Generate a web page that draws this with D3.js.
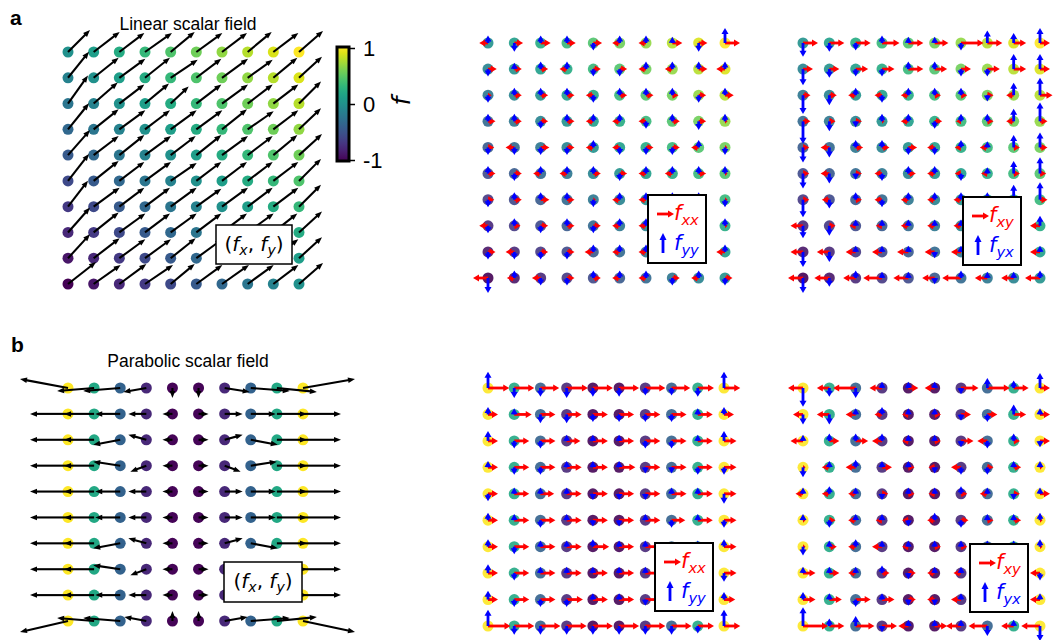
<!DOCTYPE html>
<html>
<head>
<meta charset="utf-8">
<script src="https://cdn.jsdelivr.net/npm/d3@7"></script>
<style>
  body { margin: 0; background: #fff; }
  text { font-family: "Liberation Sans", Arial, sans-serif; }
  .math { font-family: "DejaVu Sans", sans-serif; }
</style>
</head>
<body>
<svg id="fig" width="1055" height="640"></svg>
<script>
// ---- data (rows listed top to bottom, columns left to right) ----
const cbarTicks = [-1, 0, 1];

// linear scalar field value at each grid node
const linF = [
  [0, .11, .22, .33, .44, .56, .67, .78, .89, 1],
  [-.11, 0, .11, .22, .33, .44, .56, .67, .78, .89],
  [-.22, -.11, 0, .11, .22, .33, .44, .56, .67, .78],
  [-.33, -.22, -.11, 0, .11, .22, .33, .44, .56, .67],
  [-.44, -.33, -.22, -.11, 0, .11, .22, .33, .44, .56],
  [-.56, -.44, -.33, -.22, -.11, 0, .11, .22, .33, .44],
  [-.67, -.56, -.44, -.33, -.22, -.11, 0, .11, .22, .33],
  [-.78, -.67, -.56, -.44, -.33, -.22, -.11, 0, .11, .22],
  [-.89, -.78, -.67, -.56, -.44, -.33, -.22, -.11, 0, .11],
  [-1, -.89, -.78, -.67, -.56, -.44, -.33, -.22, -.11, 0]
];
// gradient of linear field (fx, fy)
const linFx = [
  [22, 26, 25, 27, 24, 26, 25, 24, 25, 24],
  [21, 25, 26, 25, 27, 25, 26, 25, 24, 23],
  [20, 24, 25, 24, 18, 25, 26, 25, 25, 22],
  [21, 25, 26, 25, 26, 26, 25, 26, 25, 22],
  [22, 25, 25, 26, 25, 25, 26, 25, 24, 23],
  [21, 25, 25, 26, 26, 25, 25, 25, 25, 22],
  [20, 26, 25, 25, 26, 25, 26, 25, 25, 22],
  [22, 25, 26, 25, 26, 25, 25, 26, 24, 23],
  [22, 26, 26, 26, 25, 26, 25, 26, 25, 23],
  [28, 27, 27, 28, 24, 26, 27, 26, 25, 24]
];
const linFy = [
  [22, 20, 19, 19, 20, 19, 19, 20, 19, 21],
  [26, 20, 19, 20, 18, 19, 19, 18, 20, 21],
  [28, 21, 19, 20, 17, 19, 19, 19, 19, 22],
  [26, 20, 19, 19, 19, 19, 20, 18, 19, 21],
  [25, 19, 20, 19, 19, 20, 19, 19, 20, 21],
  [27, 20, 19, 19, 18, 19, 19, 19, 19, 22],
  [26, 19, 19, 19, 19, 18, 19, 19, 19, 22],
  [25, 20, 19, 19, 19, 19, 19, 19, 19, 21],
  [24, 20, 19, 19, 20, 19, 19, 19, 19, 21],
  [22, 19, 20, 19, 20, 19, 19, 19, 19, 21]
];
// second derivatives of linear field
const linFxx = [
  [-7, 7, 8, 7, 7, -6, -6, 8, 7, 12],
  [7, 6, 6, -6, 6, 6, -6, -6, 7, -7],
  [3, 6, 6, 6, -6, 6, 6, 5, 6, 7],
  [6, 6, 6, 6, -6, -6, -6, 6, 6, 2],
  [5, -7, 7, 6, -6, -6, 6, 6, -6, 2],
  [6, 6, -6, -6, 6, 6, -6, -6, 6, 2],
  [5, 6, 7, 6, 2, -6, -6, 5, 6, 2],
  [-7, 5, 6, 6, 6, -6, -6, 6, -5, 2],
  [6, -7, 6, 6, -7, -6, -6, 6, 5, -7],
  [-12, -6, -7, 6, 6, -6, -6, 6, -6, 6]
];
const linFyy = [
  [6, -7, 6, 6, -6, 6, 6, 5, -7, 12],
  [-6, 5, 6, 6, -6, -6, 6, 6, 6, 6],
  [-6, 6, 6, 6, -6, 6, 6, 6, -6, 6],
  [6, 6, -6, 6, 6, 6, -6, 6, -7, 6],
  [-6, -6, -6, -6, 6, -6, -6, -6, 6, -6],
  [6, -6, 6, 6, 6, -6, 6, 6, 6, 6],
  [-6, 6, 6, 6, -6, 6, 6, 6, 6, -6],
  [-6, 6, -6, 6, -6, 6, 6, 6, 6, 6],
  [-6, -6, -6, -6, 6, 6, 6, 6, 6, 6],
  [-12, 6, -6, -6, 6, 6, 6, -6, 6, -6]
];
const linFxy = [
  [12, 12, 12, 14, 12, 11, 18, 12, 10, 8],
  [8, 8, 10, 10, 12, 10, 8, 10, 10, 8],
  [6, 6, -6, -6, -6, 5, 5, 5, -6, 10],
  [6, 5, 5, 2, -6, 6, -4, 5, -6, 6],
  [5, -7, 6, 6, 7, -6, -5, -6, 5, 6],
  [5, -7, 5, -6, 6, -6, -5, -5, 5, 5],
  [5, -6, 5, -6, -6, -6, -6, -5, 5, 6],
  [-10, 5, -5, -5, -6, -6, -6, -6, -6, -8],
  [-10, -10, -8, -8, -9, -8, -8, -8, -8, -8],
  [-12, -12, -10, -15, -12, -10, -15, -10, -10, -12]
];
const linFyx = [
  [-11, -7, -6, 6, 5, 5, -6, 10, 8, 12],
  [-13, -7, -6, -6, 6, 6, -6, -6, 12, 12],
  [-15, -8, 6, -6, 6, 6, 6, -5, 10, 14],
  [-18, -8, -5, 6, 6, -6, 6, 6, 10, 15],
  [-12, -8, 6, 6, -6, -6, 6, 5, 10, 12],
  [-12, -8, -5, -6, 6, 6, -6, 5, 10, 13],
  [-14, -7, 6, -6, 6, 6, 6, 6, 12, 14],
  [-10, -8, 5, 5, 5, 5, 5, 5, 8, 8],
  [-12, -8, 5, 5, 5, -5, 5, 5, 5, 5],
  [-12, -7, 6, 5, 5, -5, 6, 5, 5, 6]
];

// parabolic scalar field value per column (same on every row)
const parF = [1, .6, .31, .11, .01, .01, .11, .31, .6, 1];
const parFx = [
  [-48, -37, -37, -23, 0, 0, 25, 39, 40, 52],
  [-38, -30, -25, -18, -10, 10, 18, 25, 30, 38],
  [-38, -30, -27, -18, -10, 10, 18, 27, 30, 38],
  [-38, -30, -27, -16, -10, 10, 16, 26, 30, 38],
  [-38, -30, -25, -18, -10, 10, 18, 25, 30, 38],
  [-38, -30, -25, -18, -10, 10, 18, 25, 30, 38],
  [-38, -30, -27, -18, -10, 10, 18, 27, 30, 38],
  [-38, -30, -27, -16, -10, 10, 16, 26, 30, 38],
  [-38, -30, -25, -18, -10, 10, 18, 25, 30, 38],
  [-48, -37, -37, -22, 0, 0, 23, 39, 40, 52]
];
const parFy = [
  [9, -3, -3, -4, -10, -10, -4, -3, -4, 9],
  [0, 0, 0, 0, 0, 0, 0, 0, 0, 0],
  [0, 0, -5, 5, 0, 0, 5, -5, 0, 0],
  [0, 0, 4, -6, 0, 0, -6, 4, 0, 0],
  [0, 0, 0, 0, 0, 0, 0, 0, 0, 0],
  [0, 0, 0, 0, 0, 0, 0, 0, 0, 0],
  [0, 0, -5, 5, 0, 0, 5, -5, 0, 0],
  [0, 0, 4, -6, 0, 0, -6, 4, 0, 0],
  [0, 0, 0, 0, 0, 0, 0, 0, 0, 0],
  [-11, 3, 3, 4, 10, 10, 4, 3, 4, -11]
];
const parFxx = [
  [17, 16, 15, 17, 16, 16, 16, 15, 13, 13],
  [8, 14, 12, 12, 12, 12, 12, 12, 12, 8],
  [8, 12, 12, 11, 12, 12, 12, 12, 12, 10],
  [8, 12, 12, 12, 12, 13, 12, 12, 12, 10],
  [8, 12, 11, 12, 12, 12, 12, 12, 12, 10],
  [8, 12, 12, 12, 12, 12, 12, 11, 12, 10],
  [8, 12, 12, 12, 13, 12, 12, 12, 12, 10],
  [8, 12, 12, 12, 12, 12, 12, 12, 12, 10],
  [8, 12, 12, 13, 12, 12, 12, 12, 12, 9],
  [18, 16, 16, 16, 16, 16, 16, 16, 13, 13]
];
const parFyy = [
  [13, -8, -7, -8, -7, -7, -6, -6, -7, 13],
  [6, 5, -7, -7, -6, -6, -6, -6, 5, 6],
  [8, -6, -6, 5, 5, 5, -6, -6, 5, 8],
  [5, -6, -6, 5, 5, 5, -5, -5, -6, -6],
  [-6, 5, 5, 5, -5, -5, -5, 5, 5, -8],
  [6, 5, -6, 5, -5, -5, 5, -6, 5, -6],
  [6, -6, 5, 5, 6, 5, 5, -5, 5, 6],
  [7, -6, 5, 5, 5, 5, 5, -5, 5, -7],
  [7, -6, -6, -6, 5, 5, -5, 5, 5, 6],
  [13, -7, -7, -7, -7, -7, -7, -7, -6, 13]
];
const parFxy = [
  [-12, -10, -18, -10, 8, -8, 14, 18, 12, 8],
  [-8, -10, -8, -6, -5, 5, 8, 8, 10, 8],
  [-10, 8, 10, -8, -5, 5, 10, -8, 5, 8],
  [2, -6, -8, 8, 5, -5, -8, 5, 6, 2],
  [-6, -6, -6, 5, 5, -5, 5, -6, 5, 8],
  [2, 5, -6, -5, -5, -6, 6, 5, 6, 2],
  [2, 6, -6, -8, -5, 5, 5, -5, 5, 2],
  [10, 8, -6, 6, 6, -6, -6, 6, 5, -8],
  [10, 10, 12, 10, 6, -6, -8, -6, 5, -8],
  [20, 12, 15, 12, -8, 10, -12, -15, -10, -15]
];
const parFyx = [
  [-15, -7, -8, 5, 5, 5, -5, 8, 6, 12],
  [-8, -8, 5, 6, 5, 5, -5, -6, 8, 5],
  [5, 6, 6, 6, 5, 5, -5, -6, 6, -5],
  [-8, 5, 6, 5, 5, -5, -6, -6, 5, 5],
  [5, 6, 5, -5, 5, 5, 6, 5, -5, 5],
  [5, -6, 5, 5, -5, 6, -6, 5, 5, 6],
  [-7, 5, 6, 5, 5, 5, 5, 5, 5, 6],
  [5, 5, 5, 6, -5, 5, 5, 5, 5, -6],
  [6, 5, -6, 5, -5, -5, 5, 5, 5, 5],
  [15, 6, 8, -5, 5, 5, 5, -8, 5, -12]
];

// ---- drawing ----
const svg = d3.select("#fig");
const linColor = d3.scaleSequential(d3.interpolateViridis).domain([-1, 1]);
const parColor = d3.scaleSequential(d3.interpolateViridis).domain([0, 1]);
// vector units -> px
const gradScale = d3.scaleLinear().domain([-10, 10]).range([-10, 10]);
const hessScale = d3.scaleLinear().domain([-10, 10]).range([-12.5, 12.5]);

function arrow(g, x, y, vx, vy, o) {
  const L = Math.hypot(vx, vy);
  if (L < 0.3) return;
  const ux = vx / L, uy = vy / L, nx = -uy, ny = ux;
  const hl = Math.min(o.hl, L), hw = o.hw * Math.max(0.7, hl / o.hl);
  const tx = x + vx, ty = y + vy;
  const bx = tx - ux * hl, by = ty - uy * hl;
  if (L > hl) {
    g.append("line")
      .attr("x1", x).attr("y1", y)
      .attr("x2", bx + ux).attr("y2", by + uy)
      .attr("stroke", o.color).attr("stroke-width", o.w);
  }
  g.append("path")
    .attr("d", `M${tx},${ty}L${bx + nx * hw / 2},${by + ny * hw / 2}L${bx - nx * hw / 2},${by - ny * hw / 2}Z`)
    .attr("fill", o.color);
}

function panel(p) {
  const g = svg.append("g");
  const xs = d3.scaleLinear().domain([0, 9]).range([p.x0, p.x1]);
  const ys = d3.scaleLinear().domain([0, 9]).range([p.y0, p.y1]);
  const cells = [];
  d3.range(10).forEach(j => d3.range(10).forEach(i => cells.push({ i, j })));
  g.selectAll("circle").data(cells).join("circle")
    .attr("cx", d => xs(d.i)).attr("cy", d => ys(d.j)).attr("r", 5.5)
    .attr("fill", d => p.color(d.i, d.j))
    .attr("opacity", p.dotOpacity);
  p.vectors.forEach(v => {
    const vg = g.append("g");
    cells.forEach(d => {
      const vx = v.u ? p.vs(v.u[d.j][d.i]) : 0;
      const vy = v.v ? -p.vs(v.v[d.j][d.i]) : 0;
      arrow(vg, xs(d.i), ys(d.j), vx, vy, v.style);
    });
  });
}

const black = { color: "#000", w: 2.1, hl: 7, hw: 5.5 };
const red = { color: "#ff0000", w: 2.8, hl: 6, hw: 7 };
const blue = { color: "#0000ff", w: 2.8, hl: 6, hw: 7 };
const linC = (i, j) => linColor(linF[j][i]);
const parC = (i, j) => parColor(parF[i]);

panel({ x0: 68, x1: 299, y0: 52, y1: 284, color: linC, dotOpacity: 1, vs: gradScale,
  vectors: [{ u: linFx, v: linFy, style: black }] });
panel({ x0: 488, x1: 725, y0: 43, y1: 278, color: linC, dotOpacity: 0.9, vs: hessScale,
  vectors: [{ u: linFxx, style: red }, { v: linFyy, style: blue }] });
panel({ x0: 803, x1: 1040, y0: 43, y1: 278, color: linC, dotOpacity: 0.9, vs: hessScale,
  vectors: [{ u: linFxy, style: red }, { v: linFyx, style: blue }] });
panel({ x0: 68, x1: 303, y0: 388, y1: 621, color: parC, dotOpacity: 1, vs: gradScale,
  vectors: [{ u: parFx, v: parFy, style: black }] });
panel({ x0: 488, x1: 724, y0: 388, y1: 626, color: parC, dotOpacity: 0.9, vs: hessScale,
  vectors: [{ u: parFxx, style: red }, { v: parFyy, style: blue }] });
panel({ x0: 803, x1: 1040, y0: 388, y1: 626, color: parC, dotOpacity: 0.9, vs: hessScale,
  vectors: [{ u: parFxy, style: red }, { v: parFyx, style: blue }] });

// math label: parts = [[text, italic, sub]]
function mathText(g, x, y, parts, size, color, anchor) {
  const t = g.append("text").attr("class", "math").attr("x", x).attr("y", y)
    .attr("font-size", size).attr("fill", color).attr("text-anchor", anchor || "start");
  let sub = false;
  parts.forEach(([s, it, isSub]) => {
    const ts = t.append("tspan").text(s).attr("font-style", it ? "italic" : "normal");
    if (isSub && !sub) ts.attr("dy", size * 0.22).attr("font-size", size * 0.7);
    else if (isSub) ts.attr("font-size", size * 0.7);
    else if (!isSub && sub) ts.attr("dy", -size * 0.22);
    sub = isSub;
  });
  return t;
}

function gradLegend(x, y, w, h) {
  const g = svg.append("g");
  g.append("rect").attr("x", x).attr("y", y).attr("width", w).attr("height", h)
    .attr("fill", "#fff").attr("stroke", "#000").attr("stroke-width", 1.5);
  mathText(g, x + w / 2, y + 26, [["(", false, false], ["f", true, false], ["x", true, true],
    [", ", false, false], ["f", true, false], ["y", true, true], [")", false, false]], 20, "#000", "middle");
}
gradLegend(216, 225, 76, 39);
gradLegend(224, 562, 78, 40);

function hessLegend(x, y, redSub, blueSub) {
  const g = svg.append("g");
  g.append("rect").attr("x", x).attr("y", y).attr("width", 58).attr("height", 68)
    .attr("fill", "#fff").attr("stroke", "#000").attr("stroke-width", 2);
  arrow(g, x + 9, y + 19, 17, 0, { color: "#ff0000", w: 2.8, hl: 6, hw: 7 });
  arrow(g, x + 15, y + 58, 0, -20, { color: "#0000ff", w: 2.8, hl: 7, hw: 7 });
  mathText(g, x + 26, y + 25, [["f", true, false], [redSub, true, true]], 21, "#ff0000");
  mathText(g, x + 26, y + 55, [["f", true, false], [blueSub, true, true]], 21, "#0000ff");
}
hessLegend(648, 195, "xx", "yy");
hessLegend(963, 197, "xy", "yx");
hessLegend(655, 543, "xx", "yy");
hessLegend(970, 544, "xy", "yx");

// colorbar
const defs = svg.append("defs");
const grad = defs.append("linearGradient").attr("id", "vir")
  .attr("x1", 0).attr("y1", 1).attr("x2", 0).attr("y2", 0);
d3.range(0, 1.0001, 0.05).forEach(t => grad.append("stop")
  .attr("offset", t).attr("stop-color", d3.interpolateViridis(t)));
const cy = d3.scaleLinear().domain([-1, 1]).range([160, 48]);
svg.append("rect").attr("x", 337).attr("y", 47).attr("width", 12).attr("height", 114)
  .attr("fill", "url(#vir)").attr("stroke", "#000").attr("stroke-width", 3);
const cax = svg.append("g").attr("transform", "translate(350,0)")
  .call(d3.axisRight(cy).tickValues(cbarTicks).tickSize(5).tickPadding(8).tickFormat(d => String(d)));
cax.select(".domain").remove();
cax.selectAll("line").attr("stroke-width", 1.5);
cax.selectAll("text").attr("font-size", 22).attr("font-family", "Liberation Sans, Arial, sans-serif").attr("fill", "#000");
mathText(svg, 0, 0, [["f", true, false]], 25, "#000", "middle")
  .attr("transform", "translate(410,101) rotate(-90)");

// titles and panel letters
svg.append("text").attr("x", 10).attr("y", 25).attr("font-size", 21).attr("font-weight", "bold").text("a");
svg.append("text").attr("x", 11).attr("y", 352).attr("font-size", 21).attr("font-weight", "bold").text("b");
svg.append("text").attr("x", 188).attr("y", 30).attr("font-size", 17.5).attr("text-anchor", "middle").text("Linear scalar field");
svg.append("text").attr("x", 188).attr("y", 367).attr("font-size", 17.5).attr("text-anchor", "middle").text("Parabolic scalar field");
</script>
</body>
</html>
